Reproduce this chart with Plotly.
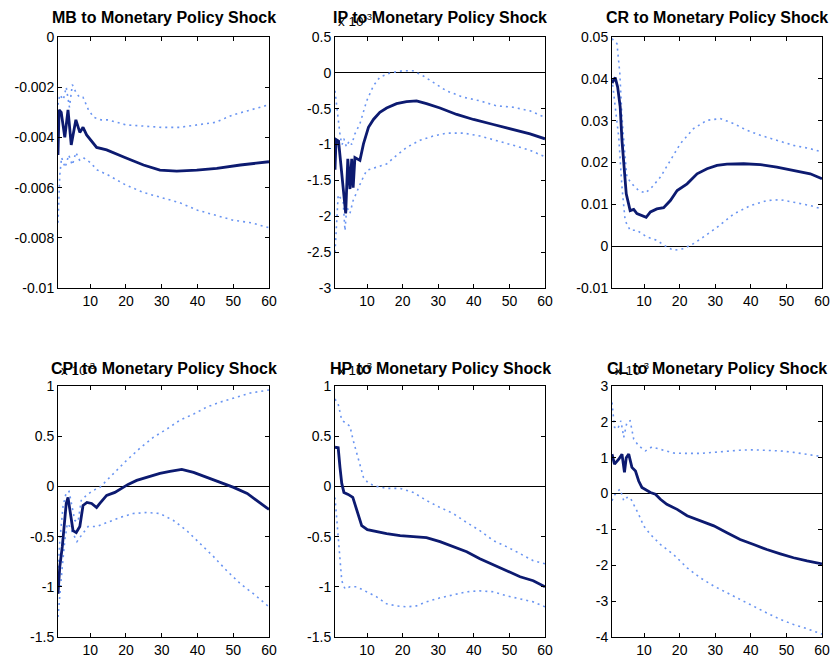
import plotly.graph_objects as go

# ---------------- data ----------------
titles = ["MB to Monetary Policy Shock", "IP to Monetary Policy Shock", "CR to Monetary Policy Shock",
          "CPI to Monetary Policy Shock", "HP to Monetary Policy Shock", "CL to Monetary Policy Shock"]
scaled = [False, True, False, True, True, True]   # panels showing "x 10^-3"

x_ticks = [10, 20, 30, 40, 50, 60]

# MB
mb_x_mid = [1, 1.3, 1.9, 2.9, 3.8, 4.7, 6.0, 7.1, 8.0, 9.0, 11.8, 14.6, 19.7, 24.9, 29.5, 34.2, 39.8, 45.4, 52, 60]
mb_mid = [-0.0047, -0.0029, -0.0030, -0.0040, -0.0029, -0.0043, -0.0033, -0.0038, -0.0036, -0.0039, -0.0044,
          -0.0045, -0.0048, -0.0051, -0.0053, -0.00534, -0.0053, -0.00523, -0.0051, -0.00497]
mb_x_up = [1, 1.5, 2.5, 3.3, 4.2, 5, 6, 7, 8, 9.5, 11, 13, 15, 20, 25, 30, 35, 40, 45, 50, 55, 60]
mb_up = [-0.0027, -0.0023, -0.0025, -0.0020, -0.0028, -0.0019, -0.0022, -0.0024, -0.0024, -0.0029, -0.0032,
         -0.0033, -0.0033, -0.0035, -0.00355, -0.0036, -0.0036, -0.0035, -0.0034, -0.0031, -0.0029, -0.0027]
mb_x_lo = [1, 1.5, 2, 3, 4, 5, 6, 7, 8, 10, 12, 15, 20, 25, 30, 35, 40, 45, 50, 55, 60]
mb_lo = [-0.0074, -0.0055, -0.0048, -0.0052, -0.0047, -0.0051, -0.0046, -0.0049, -0.0048, -0.0050, -0.0053,
         -0.0055, -0.0059, -0.0062, -0.0064, -0.0066, -0.0069, -0.0071, -0.0073, -0.0074, -0.0076]

# IP (x 10^-3)
ip_x_mid = [1, 1.3, 2, 2.5, 2.9, 3.5, 4.0, 4.6, 5.2, 5.7, 6.1, 6.6, 8.0, 9.0, 10.4, 11.8, 13.6, 15.5, 18.3,
            21.1, 23.9, 26.7, 30.5, 35.2, 39.9, 45.5, 51.1, 55.8, 60]
ip_mid = [-1.35, -0.93, -0.95, -1.2, -1.31, -1.69, -1.96, -1.2, -1.62, -1.2, -1.6, -1.18, -1.22, -0.99, -0.76,
          -0.65, -0.55, -0.49, -0.43, -0.40, -0.39, -0.43, -0.49, -0.58, -0.65, -0.72, -0.79, -0.85, -0.92]
ip_x_up = [1, 1.5, 2.5, 3, 3.5, 4.2, 5, 5.7, 6.6, 8, 9.9, 11.8, 13.6, 16.5, 20, 22.9, 25.7, 28.5, 32.3, 37,
           41.7, 46.4, 51.1, 55.8, 60]
ip_up = [-0.25, -0.5, -0.9, -1.0, -0.92, -1.03, -0.95, -1.0, -0.85, -0.71, -0.39, -0.18, -0.06, 0.0, 0.03,
         0.03, -0.04, -0.13, -0.25, -0.34, -0.39, -0.46, -0.48, -0.53, -0.62]
ip_x_lo = [1, 1.9, 3.3, 3.8, 4.3, 5.2, 6.1, 7.1, 8.5, 9.9, 12.7, 15.5, 18.3, 21.1, 24.9, 28.6, 32.4, 37.1,
           41.7, 46.4, 51.1, 55.8, 60]
ip_lo = [-2.5, -1.7, -1.8, -2.2, -1.87, -1.96, -1.78, -1.66, -1.5, -1.36, -1.31, -1.27, -1.15, -1.04, -0.94,
         -0.88, -0.84, -0.84, -0.88, -0.94, -1.01, -1.08, -1.17]

# CR
cr_x_mid = [1, 1.9, 2.6, 3.3, 3.8, 4.3, 5.0, 6.1, 7.1, 8.0, 9.4, 10.6, 11.8, 13.6, 15.5, 17.4, 19.3, 22.1,
            24.9, 27.7, 30.5, 33.3, 38, 42.7, 47.3, 52, 56.7, 60]
cr_mid = [0.039, 0.0403, 0.038, 0.0333, 0.0253, 0.0189, 0.0125, 0.0085, 0.0088, 0.0078, 0.0073, 0.0069,
          0.0082, 0.0089, 0.0092, 0.0109, 0.0133, 0.0149, 0.0173, 0.0185, 0.0193, 0.0196, 0.0197, 0.0195,
          0.0189, 0.0181, 0.0173, 0.0161]
cr_x_up = [1, 2.4, 3.2, 3.8, 4.6, 5.2, 6.6, 8.5, 10.4, 12.2, 14.6, 17.4, 20.2, 23.9, 27.7, 31.4, 35.2, 38.9,
           42.7, 47.3, 52, 56.7, 60]
cr_up = [0.0496, 0.0484, 0.0413, 0.0309, 0.0221, 0.0165, 0.0149, 0.0133, 0.0127, 0.0141, 0.0165, 0.0205,
         0.0245, 0.0281, 0.0301, 0.0305, 0.0293, 0.0277, 0.0265, 0.0253, 0.0241, 0.0233, 0.0225]
cr_x_lo = [1, 1.9, 2.9, 3.8, 4.7, 6.1, 8.0, 10.8, 13.6, 16.4, 18.3, 21.1, 23.9, 26.7, 30.5, 35.2, 39.9, 44.5,
           48.3, 52, 56.7, 60]
cr_lo = [0.040, 0.034, 0.026, 0.0141, 0.0061, 0.0038, 0.0038, 0.0022, 0.0014, -0.0002, -0.001, -0.0006,
         0.0006, 0.0022, 0.0045, 0.0077, 0.0097, 0.0109, 0.0111, 0.0105, 0.0097, 0.0089]

# CPI (x 10^-3)
cpi_x_mid = [1, 1.5, 2.2, 2.9, 3.3, 3.8, 4.5, 5.2, 6.1, 7.1, 8.0, 9.1, 10.4, 11.8, 12.7, 14.6, 16.9, 18.8,
             20.6, 23, 25.8, 29.5, 32.3, 35.6, 38.9, 42.6, 46.4, 50.1, 53.9, 56.7, 60]
cpi_mid = [-1.07, -0.8, -0.6, -0.31, -0.17, -0.11, -0.27, -0.44, -0.46, -0.4, -0.19, -0.16, -0.17, -0.21,
           -0.17, -0.09, -0.06, -0.02, 0.02, 0.06, 0.09, 0.13, 0.15, 0.17, 0.14, 0.09, 0.04, -0.01, -0.07,
           -0.14, -0.23]
cpi_x_up = [1, 1.5, 2.4, 3.3, 4.1, 4.7, 5.7, 6.6, 7.5, 8.9, 10.8, 12.7, 14.6, 17.4, 20.2, 23.9, 27.7, 31.4,
            35.1, 38.9, 42.6, 46.4, 50.1, 54.8, 60]
cpi_up = [-0.87, -0.54, -0.2, -0.06, -0.05, -0.17, -0.34, -0.35, -0.14, -0.09, -0.04, -0.01, 0.06, 0.16,
          0.26, 0.38, 0.49, 0.57, 0.66, 0.72, 0.79, 0.84, 0.88, 0.93, 0.96]
cpi_x_lo = [1, 1.5, 2.2, 2.9, 3.6, 4.3, 5.2, 6.3, 7.5, 9.4, 11.8, 14.6, 18.3, 22, 25.8, 29.5, 33.3, 37, 40.8,
            44.5, 48.2, 52, 55.7, 60]
cpi_lo = [-1.3, -1.07, -0.8, -0.54, -0.37, -0.4, -0.47, -0.55, -0.49, -0.4, -0.4, -0.36, -0.31, -0.27,
          -0.26, -0.27, -0.34, -0.44, -0.57, -0.7, -0.84, -0.97, -1.07, -1.2]

# HP (x 10^-3)
hp_x_mid = [1, 1.9, 2.4, 2.9, 3.5, 4.7, 6, 7.1, 8.5, 10.1, 12.7, 15.5, 19.3, 23, 26.7, 30.5, 34.2, 38, 41.7,
            45.5, 49.2, 53, 56.7, 60]
hp_mid = [0.39, 0.385, 0.19, 0.03, -0.06, -0.08, -0.11, -0.24, -0.39, -0.43, -0.45, -0.47, -0.49, -0.5,
          -0.51, -0.55, -0.6, -0.65, -0.72, -0.78, -0.84, -0.9, -0.94, -1.0]
hp_x_up = [1, 1.9, 2.9, 4.3, 5.2, 6.1, 7.6, 9, 10.4, 12.7, 15.5, 19.3, 23, 26.7, 30.5, 34.2, 38, 41.7, 45.5,
           49.2, 53, 56.7, 60]
hp_up = [0.87, 0.82, 0.66, 0.62, 0.6, 0.46, 0.26, 0.09, 0.03, 0.0, -0.02, -0.02, -0.06, -0.14, -0.21, -0.27,
         -0.36, -0.44, -0.54, -0.6, -0.67, -0.74, -0.77]
hp_x_lo = [1, 1.7, 2.4, 2.9, 3.8, 5.2, 7.1, 9.9, 12.7, 15.5, 18.3, 21.1, 23.9, 26.7, 30.5, 34.2, 38, 41.7,
           45.5, 49.2, 53, 56.7, 60]
hp_lo = [-0.11, -0.4, -0.74, -0.94, -1.02, -1.0, -1.0, -1.05, -1.1, -1.17, -1.19, -1.2, -1.19, -1.15, -1.11,
         -1.08, -1.05, -1.04, -1.05, -1.09, -1.12, -1.15, -1.2]

# CL (x 10^-3)
cl_x_mid = [1, 1.7, 2.9, 3.8, 4.5, 5, 5.7, 6.6, 7.6, 8.5, 9.4, 10.6, 11.8, 13.2, 14.6, 16.4, 19.3, 22.1,
            25.8, 29.6, 33.3, 37, 40.8, 44.5, 48.3, 52, 55.8, 60]
cl_mid = [1.1, 0.82, 0.96, 1.1, 0.59, 1.0, 1.1, 0.73, 0.63, 0.35, 0.17, 0.09, 0.03, -0.02, -0.16, -0.3,
          -0.44, -0.62, -0.76, -0.9, -1.09, -1.28, -1.42, -1.56, -1.68, -1.79, -1.88, -1.96]
cl_x_up = [1, 1.7, 2.6, 3.5, 4.3, 5.2, 6.1, 7.1, 8.5, 10.4, 12.2, 14.6, 18.3, 22.1, 25.8, 29.6, 33.3, 37,
           40.8, 44.5, 48.3, 52, 55.8, 60]
cl_up = [2.54, 1.85, 1.8, 2.03, 1.57, 1.99, 2.03, 1.52, 1.33, 1.19, 1.3, 1.24, 1.13, 1.12, 1.12, 1.15, 1.19,
         1.21, 1.22, 1.21, 1.19, 1.15, 1.1, 1.03]
cl_x_lo = [1, 1.5, 2.6, 3.3, 4.3, 5.2, 6.1, 7.1, 8.5, 9.9, 11.8, 14.6, 18.3, 22.1, 25.8, 29.6, 33.3, 37,
           40.8, 44.5, 48.3, 52, 55.8, 60]
cl_lo = [-0.2, -0.07, 0.07, 0.12, -0.2, -0.11, -0.11, -0.3, -0.58, -0.9, -1.14, -1.42, -1.7, -2.07, -2.35,
         -2.58, -2.77, -2.95, -3.14, -3.33, -3.51, -3.65, -3.77, -3.92]

# y tick values / labels per panel
mb_yticks = [0, -0.002, -0.004, -0.006, -0.008, -0.01]
mb_ylabels = ["0", "-0.002", "-0.004", "-0.006", "-0.008", "-0.01"]
ip_yticks = [0.5, 0, -0.5, -1, -1.5, -2, -2.5, -3]
ip_ylabels = ["0.5", "0", "-0.5", "-1", "-1.5", "-2", "-2.5", "-3"]
cr_yticks = [0.05, 0.04, 0.03, 0.02, 0.01, 0, -0.01]
cr_ylabels = ["0.05", "0.04", "0.03", "0.02", "0.01", "0", "-0.01"]
cpi_yticks = [1, 0.5, 0, -0.5, -1, -1.5]
cpi_ylabels = ["1", "0.5", "0", "-0.5", "-1", "-1.5"]
hp_yticks = cpi_yticks
hp_ylabels = cpi_ylabels
cl_yticks = [3, 2, 1, 0, -1, -2, -3, -4]
cl_ylabels = ["3", "2", "1", "0", "-1", "-2", "-3", "-4"]

panels = [
    (mb_x_mid, mb_mid, mb_x_up, mb_up, mb_x_lo, mb_lo, mb_yticks, mb_ylabels),
    (ip_x_mid, ip_mid, ip_x_up, ip_up, ip_x_lo, ip_lo, ip_yticks, ip_ylabels),
    (cr_x_mid, cr_mid, cr_x_up, cr_up, cr_x_lo, cr_lo, cr_yticks, cr_ylabels),
    (cpi_x_mid, cpi_mid, cpi_x_up, cpi_up, cpi_x_lo, cpi_lo, cpi_yticks, cpi_ylabels),
    (hp_x_mid, hp_mid, hp_x_up, hp_up, hp_x_lo, hp_lo, hp_yticks, hp_ylabels),
    (cl_x_mid, cl_mid, cl_x_up, cl_up, cl_x_lo, cl_lo, cl_yticks, cl_ylabels),
]

# ---------------- layout ----------------
W, H = 831, 660
col_px = [(58, 269), (335, 545), (612, 822)]
row_px = [(37, 288), (386, 637)]
title_y_px = [18, 368]

SOLID = "#0c1a70"
DOT = "#6a95f2"
FONT = "Liberation Sans, Arial, Helvetica, sans-serif"

fig = go.Figure()
layout = dict(template="none", width=W, height=H, margin=dict(l=0, r=0, t=0, b=0, pad=0),
              paper_bgcolor="white", plot_bgcolor="white", showlegend=False,
              font=dict(family=FONT, size=13, color="black"))
annotations = []

for i, (xm, ym, xu, yu, xl, yl, yt, ylab) in enumerate(panels):
    r, c = divmod(i, 3)
    n = "" if i == 0 else str(i + 1)
    xa, ya = "x" + n, "y" + n
    x0, x1 = col_px[c]
    y0, y1 = row_px[r]
    dx = [x0 / W, x1 / W]
    dy = [1 - y1 / H, 1 - y0 / H]

    for xs, ys in ((xu, yu), (xl, yl)):
        fig.add_trace(go.Scatter(x=xs, y=ys, mode="lines", xaxis=xa, yaxis=ya,
                                 line=dict(color=DOT, width=1.6, dash="2px,4px"), hoverinfo="skip"))
    fig.add_trace(go.Scatter(x=xm, y=ym, mode="lines", xaxis=xa, yaxis=ya,
                             line=dict(color=SOLID, width=2.8), hoverinfo="skip"))

    axis_common = dict(showline=True, linecolor="black", linewidth=1, mirror="ticks",
                       ticks="inside", ticklen=4, tickcolor="black", tickwidth=1, showgrid=False,
                       automargin=False, tickfont=dict(family=FONT, size=14, color="black"))
    layout["xaxis" + n] = dict(domain=dx, range=[1, 60], tickvals=x_ticks, anchor=ya,
                               zeroline=False, **axis_common)
    layout["yaxis" + n] = dict(domain=dy, range=[min(yt), max(yt)], tickvals=yt, ticktext=ylab,
                               anchor=xa, zeroline=True, zerolinecolor="black", zerolinewidth=1,
                               **axis_common)

    annotations.append(dict(text="<b>" + titles[i] + "</b>", xref="paper", yref="paper",
                            x=(dx[0] + dx[1]) / 2, y=1 - title_y_px[r] / H, xanchor="center",
                            yanchor="middle", showarrow=False,
                            font=dict(family=FONT, size=16, color="black")))
    if scaled[i]:
        annotations.append(dict(text="x 10<sup>-3</sup>", xref="paper", yref="paper",
                                x=dx[0], y=dy[1], xanchor="left", yanchor="bottom", xshift=1,
                                yshift=6, showarrow=False,
                                font=dict(family=FONT, size=13.5, color="black")))

layout["annotations"] = annotations
fig.update_layout(**layout)
# remove the default 8px page margin so the 831x660 figure fills the window exactly
fig.write_html("out.html",
               config={"displayModeBar": False, "staticPlot": True},
               post_script="document.body.style.margin='0';document.body.style.overflow='hidden';")
